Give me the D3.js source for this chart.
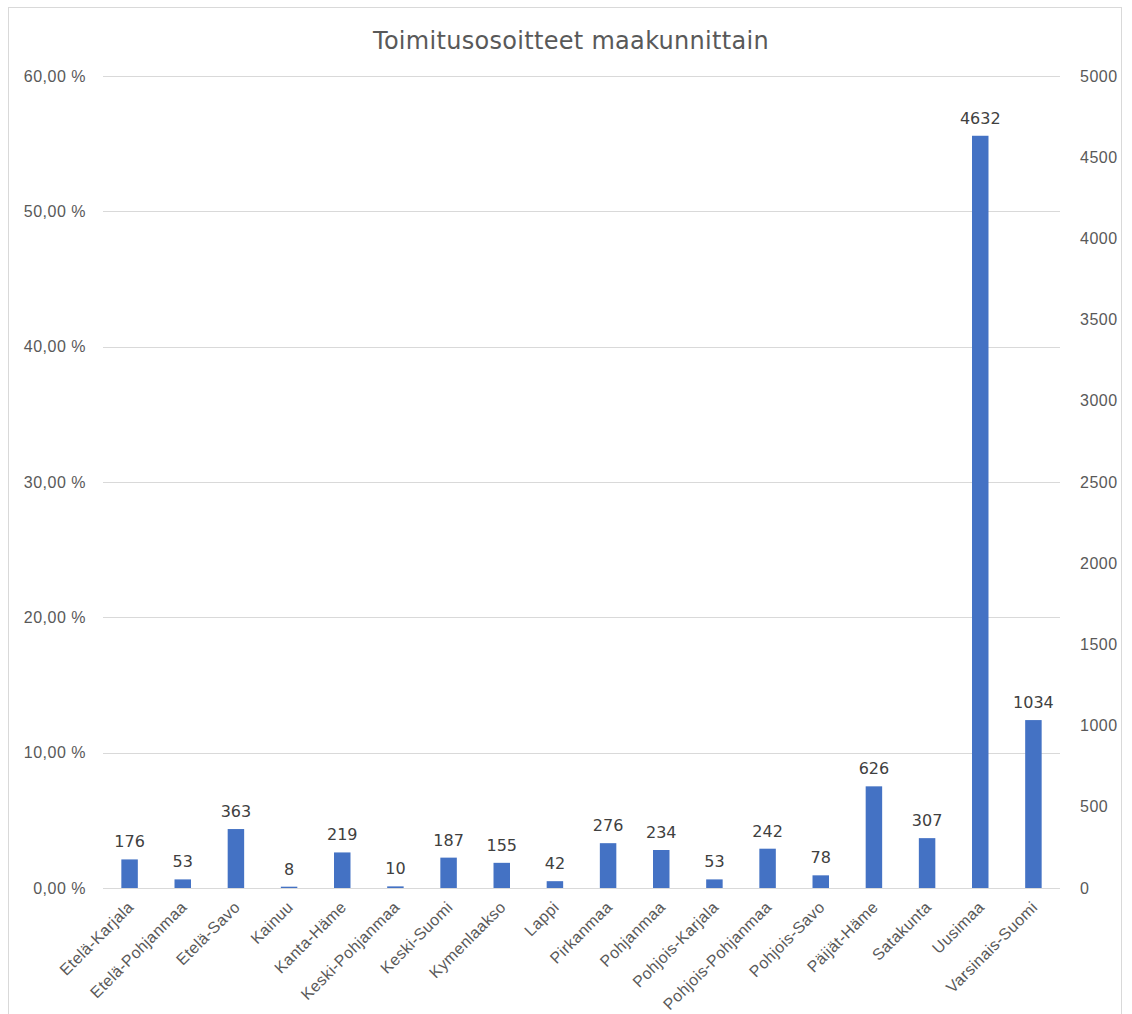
<!DOCTYPE html>
<html lang="fi">
<head>
  <meta charset="UTF-8">
  <title>Toimitusosoitteet maakunnittain</title>
  <style>
    body { margin: 0; background: #fff; }
    svg { font-family: "DejaVu Sans", "Open Sans", sans-serif; }
    .grid line { stroke: #d9d9d9; stroke-width: 1px; shape-rendering: crispEdges; }
    .axis text { fill: #595959; font-size: 16px; letter-spacing: 0.5px; }
    .axis--x text { font-size: 16px; letter-spacing: 0.4px; }
    .axis path, .axis line { display: none; }
    .bar { fill: #4472c4; }
    .label { fill: #404040; font-size: 16px; text-anchor: middle; }
    .title { fill: #595959; font-size: 24px; letter-spacing: 0.3px; text-anchor: middle; }
  </style>
</head>
<body>
  <svg width="1132" height="1014"></svg>
  <script src="https://cdn.jsdelivr.net/npm/d3@7"></script>
  <script>
    var categories = ["Etelä-Karjala", "Etelä-Pohjanmaa", "Etelä-Savo", "Kainuu", "Kanta-Häme",
      "Keski-Pohjanmaa", "Keski-Suomi", "Kymenlaakso", "Lappi", "Pirkanmaa", "Pohjanmaa",
      "Pohjois-Karjala", "Pohjois-Pohjanmaa", "Pohjois-Savo", "Päijät-Häme", "Satakunta",
      "Uusimaa", "Varsinais-Suomi"];
    var counts = [176, 53, 363, 8, 219, 10, 187, 155, 42, 276, 234, 53, 242, 78, 626, 307, 4632, 1034];
    var pctTicks = [0, 0.1, 0.2, 0.3, 0.4, 0.5, 0.6];
    var countTicks = [0, 500, 1000, 1500, 2000, 2500, 3000, 3500, 4000, 4500, 5000];
    var title = "Toimitusosoitteet maakunnittain";

    var svg = d3.select("svg"),
        margin = {top: 76, right: 72, bottom: 126, left: 103},
        width = +svg.attr("width") - margin.left - margin.right,
        height = +svg.attr("height") - margin.top - margin.bottom;

    // chart frame
    svg.append("rect")
        .attr("x", 8.5).attr("y", 7.5)
        .attr("width", 1113).attr("height", 1010)
        .attr("fill", "none")
        .attr("stroke", "#d9d9d9");

    svg.append("text")
        .attr("class", "title")
        .attr("x", 571)
        .attr("y", 49)
        .text(title);

    var g = svg.append("g")
        .attr("transform", "translate(" + margin.left + "," + margin.top + ")");

    var x = d3.scaleBand().domain(categories).range([0, width])
        .paddingInner(0.69).paddingOuter(0.345);
    var yPct = d3.scaleLinear().domain([0, 0.6]).range([height, 0]);
    var yCount = d3.scaleLinear().domain([0, 5000]).range([height, 0]);

    // gridlines from left axis
    g.append("g")
        .attr("class", "grid")
        .selectAll("line")
        .data(pctTicks)
        .join("line")
        .attr("x1", 0)
        .attr("x2", width)
        .attr("y1", function(d) { return Math.round(yPct(d)) + 0.5; })
        .attr("y2", function(d) { return Math.round(yPct(d)) + 0.5; });

    // left axis
    g.append("g")
        .attr("class", "axis axis--left")
        .attr("transform", "translate(-14,0)")
        .call(d3.axisLeft(yPct).tickValues(pctTicks).tickSize(0)
          .tickFormat(function(d) { return (d * 100).toFixed(2).replace(".", ",") + " %"; }));

    // right axis
    g.append("g")
        .attr("class", "axis axis--right")
        .attr("transform", "translate(" + (width + 17) + ",0)")
        .call(d3.axisRight(yCount).tickValues(countTicks).tickSize(0).tickFormat(d3.format("d")));

    // bars
    g.selectAll(".bar")
        .data(counts)
        .join("rect")
        .attr("class", "bar")
        .attr("x", function(d, i) { return x(categories[i]); })
        .attr("width", x.bandwidth())
        .attr("y", function(d) { return yCount(d); })
        .attr("height", function(d) { return height - yCount(d); });

    // data labels
    g.selectAll(".label")
        .data(counts)
        .join("text")
        .attr("class", "label")
        .attr("x", function(d, i) { return x(categories[i]) + x.bandwidth() / 2; })
        .attr("y", function(d) { return yCount(d) - 12; })
        .text(function(d) { return d; });

    // category axis
    var xAxis = g.append("g")
        .attr("class", "axis axis--x")
        .attr("transform", "translate(0," + height + ")")
        .call(d3.axisBottom(x).tickSize(0));

    xAxis.selectAll("text")
        .attr("text-anchor", "end")
        .attr("dx", "0")
        .attr("dy", "0")
        .attr("transform", "translate(3,18) rotate(-45)");
  </script>
</body>
</html>
